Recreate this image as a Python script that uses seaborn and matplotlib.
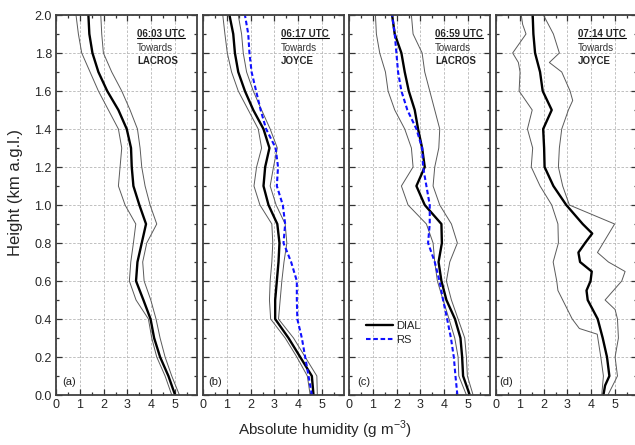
import pandas as pd
import matplotlib
matplotlib.use('Agg')
import matplotlib.pyplot as plt
from matplotlib.ticker import MultipleLocator, FormatStrFormatter
from matplotlib.lines import Line2D
import seaborn as sns

sns.set_style('ticks')
plt.rcParams['font.family'] = ['Liberation Sans', 'DejaVu Sans']
plt.rcParams['mathtext.fontset'] = 'custom'
plt.rcParams['mathtext.rm'] = 'Liberation Sans'

# heights (km) from top to bottom, shared by panels a-c
heights = [2.0, 1.9, 1.8, 1.7, 1.6, 1.5, 1.4, 1.3, 1.2, 1.1, 1.0,
           0.9, 0.8, 0.7, 0.6, 0.5, 0.4, 0.3, 0.2, 0.1, 0.0]

# (a) 06:03 UTC towards LACROS
dial_a = [1.36, 1.40, 1.53, 1.78, 2.15, 2.62, 2.97, 3.15, 3.18, 3.25, 3.50,
          3.78, 3.60, 3.42, 3.36, 3.67, 3.97, 4.12, 4.37, 4.72, 5.00]
lo_a = [0.84, 0.94, 1.08, 1.43, 1.78, 2.20, 2.62, 2.76, 2.69, 2.62, 2.90,
        3.35, 3.25, 3.14, 3.08, 3.36, 3.88, 4.02, 4.23, 4.58, 4.86]
hi_a = [1.88, 1.92, 1.99, 2.34, 2.76, 3.11, 3.42, 3.53, 3.60, 3.74, 3.95,
        4.23, 3.81, 3.64, 3.70, 3.98, 4.20, 4.37, 4.58, 4.86, 5.18]

# (b) 06:17 UTC towards JOYCE
dial_b = [1.11, 1.27, 1.34, 1.48, 1.76, 2.11, 2.54, 2.79, 2.61, 2.54, 2.75,
          3.12, 3.21, 3.17, 3.10, 3.03, 3.03, 3.59, 4.08, 4.57, 4.64]
lo_b = [0.83, 0.92, 1.02, 1.20, 1.48, 1.90, 2.32, 2.46, 2.25, 2.14, 2.39,
        2.89, 2.93, 2.89, 2.82, 2.79, 2.84, 3.45, 3.94, 4.38, 4.50]
hi_b = [1.48, 1.62, 1.69, 1.83, 2.11, 2.46, 2.82, 3.12, 2.96, 2.82, 3.07,
        3.45, 3.52, 3.40, 3.31, 3.24, 3.17, 3.80, 4.29, 4.78, 4.80]
rs_b = [1.76, 1.90, 1.95, 2.04, 2.23, 2.42, 2.65, 3.05, 3.15, 3.10, 3.35,
        3.45, 3.38, 3.70, 3.94, 3.94, 3.96, 4.15, 4.29, 4.43, 4.57]

# (c) 06:59 UTC towards LACROS
dial_c = [1.81, 1.92, 2.20, 2.34, 2.51, 2.76, 2.90, 3.07, 3.18, 2.83, 3.18,
          3.88, 3.90, 3.76, 3.88, 4.09, 4.45, 4.68, 4.75, 4.79, 5.07]
lo_c = [1.11, 1.15, 1.29, 1.53, 1.64, 1.92, 2.34, 2.62, 2.69, 2.20, 2.48,
        3.25, 3.53, 3.60, 3.71, 3.95, 4.20, 4.44, 4.58, 4.61, 4.93]
hi_c = [2.62, 2.69, 3.07, 3.18, 3.39, 3.60, 3.81, 3.77, 3.60, 3.53, 3.81,
        4.30, 4.55, 4.23, 4.09, 4.30, 4.58, 4.86, 4.93, 4.97, 5.21]
rs_c = [1.81, 1.92, 1.99, 2.06, 2.20, 2.45, 2.83, 3.07, 3.11, 3.25, 3.39,
        3.39, 3.32, 3.60, 3.80, 3.95, 4.12, 4.28, 4.40, 4.47, 4.55]

# (d) 07:14 UTC towards JOYCE (noisier, finer height steps)
h_dial_d = [2.0, 1.9, 1.8, 1.7, 1.6, 1.5, 1.4, 1.3, 1.2, 1.1, 1.0, 0.9, 0.85,
            0.8, 0.75, 0.7, 0.65, 0.6, 0.55, 0.5, 0.4, 0.3, 0.2, 0.1, 0.05, 0.0]
dial_d = [1.54, 1.57, 1.64, 1.85, 1.96, 2.34, 1.98, 2.02, 2.04, 2.41, 2.95, 3.64,
          4.04, 3.74, 3.46, 3.53, 4.02, 3.97, 3.80, 3.85, 4.27, 4.48, 4.66, 4.76,
          4.58, 4.51]
h_lo_d = [2.0, 1.95, 1.9, 1.8, 1.75, 1.7, 1.6, 1.5, 1.4, 1.3, 1.2, 1.1, 1.0,
          0.9, 0.8, 0.7, 0.6, 0.55, 0.5, 0.4, 0.35, 0.32, 0.2, 0.1, 0.0]
lo_d = [1.06, 1.12, 1.26, 0.70, 0.94, 1.01, 0.97, 1.52, 1.32, 1.54, 1.48, 1.85,
        2.34, 2.60, 2.62, 2.40, 2.55, 2.60, 2.80, 3.20, 3.50, 4.25, 4.40, 4.51,
        4.44]
h_hi_d = [2.0, 1.9, 1.8, 1.75, 1.7, 1.6, 1.55, 1.5, 1.4, 1.3, 1.2, 1.1, 1.0,
          0.9, 0.8, 0.75, 0.7, 0.65, 0.6, 0.5, 0.45, 0.4, 0.3, 0.2, 0.1, 0.0]
hi_d = [1.99, 2.41, 2.66, 2.24, 2.76, 3.11, 3.22, 3.04, 2.76, 2.66, 2.62, 2.80,
        3.08, 4.98, 4.50, 4.26, 4.72, 5.42, 5.28, 4.58, 5.00, 5.10, 5.14, 5.00,
        5.10, 4.70]

panel_tags = ['(a)', '(b)', '(c)', '(d)']
times = ['06:03 UTC', '06:17 UTC', '06:59 UTC', '07:14 UTC']
targets = ['LACROS', 'JOYCE', 'LACROS', 'JOYCE']

rows = []
def add(panel, series, h, v):
    for hh, vv in zip(h, v):
        rows.append({'panel': panel, 'series': series, 'height': hh, 'value': vv})

add(0, 'lo', heights, lo_a); add(0, 'hi', heights, hi_a); add(0, 'DIAL', heights, dial_a)
add(1, 'lo', heights, lo_b); add(1, 'hi', heights, hi_b); add(1, 'DIAL', heights, dial_b)
add(1, 'RS', heights, rs_b)
add(2, 'lo', heights, lo_c); add(2, 'hi', heights, hi_c); add(2, 'DIAL', heights, dial_c)
add(2, 'RS', heights, rs_c)
add(3, 'lo', h_lo_d, lo_d); add(3, 'hi', h_hi_d, hi_d); add(3, 'DIAL', h_dial_d, dial_d)
df = pd.DataFrame(rows)

styles = {
    'lo': dict(color='#5a5a5a', lw=0.7, ls='-'),
    'hi': dict(color='#5a5a5a', lw=0.7, ls='-'),
    'DIAL': dict(color='black', lw=1.7, ls='-'),
    'RS': dict(color='#1010ff', lw=1.5, ls=(0, (2.2, 1.3))),
}

fig = plt.figure(figsize=(6.35, 4.45), dpi=100)
lefts = [56, 203, 349, 496]
txt_x = [0.574, 0.553, 0.61, 0.58]
tag_x = [0.043, 0.035, 0.055, 0.02]
axes = []
for i, lx in enumerate(lefts):
    ax = fig.add_axes([lx / 635, 50 / 445, 141 / 635, 380 / 445])
    axes.append(ax)
    sub = df[df.panel == i]
    for s in ['lo', 'hi', 'DIAL', 'RS']:
        d = sub[sub.series == s]
        if d.empty:
            continue
        st = styles[s]
        sns.lineplot(data=d, x='value', y='height', orient='y', estimator=None,
                     sort=True, color=st['color'], lw=st['lw'], ls=st['ls'],
                     label=s, legend=False, ax=ax)
    ax.set_xlim(0, 5.92)
    ax.set_ylim(0, 2.0)
    ax.xaxis.set_major_locator(MultipleLocator(1))
    ax.xaxis.set_minor_locator(MultipleLocator(0.5))
    ax.yaxis.set_major_locator(MultipleLocator(0.2))
    ax.yaxis.set_minor_locator(MultipleLocator(0.1))
    ax.yaxis.set_major_formatter(FormatStrFormatter('%.1f'))
    ax.grid(True, which='major', ls=(0, (3, 2)), lw=0.6, color='#b5b5b5')
    ax.tick_params(which='both', direction='in', top=True, right=True,
                   color='#333333', width=0.9, labelsize=9, pad=3)
    ax.tick_params(which='major', length=4)
    ax.tick_params(which='minor', length=2.5)
    for sp in ax.spines.values():
        sp.set_linewidth(1.3)
        sp.set_color('#404040')
    ax.set_xlabel('')
    ax.set_ylabel('')
    if i > 0:
        ax.tick_params(labelleft=False)
    ax.text(txt_x[i], 0.95, times[i], transform=ax.transAxes, fontsize=7,
            fontweight='bold', va='center', ha='left')
    ax.text(txt_x[i], 0.913, 'Towards', transform=ax.transAxes, fontsize=7,
            va='center', ha='left', color='#333333')
    ax.text(txt_x[i], 0.878, targets[i], transform=ax.transAxes, fontsize=7,
            fontweight='bold', va='center', ha='left')
    ax.text(tag_x[i], 0.034, panel_tags[i], transform=ax.transAxes, fontsize=8,
            va='center', ha='left', color='#222222')

# legend in panel (c)
lc = axes[2]
hs = [l for l in lc.get_lines() if l.get_label() in ('DIAL', 'RS')]
lc.legend(handles=hs, labels=['DIAL', 'RS'], loc='upper left',
          bbox_to_anchor=(0.12, 0.195), frameon=False, fontsize=8,
          handlelength=2.4, handletextpad=0.3, borderaxespad=0, borderpad=0,
          labelspacing=0.35)

fig.text(0.512, 0.033, 'Absolute humidity (g m$^{-3}$)', ha='center',
         va='center', fontsize=11)
fig.text(0.024, 0.568, 'Height (km a.g.l.)', rotation=90, ha='center',
         va='center', fontsize=12)

# underline the time stamps
fig.canvas.draw()
r = fig.canvas.get_renderer()
inv = fig.transFigure.inverted()
for ax in axes:
    for t in ax.texts:
        if t.get_text() in times:
            bb = t.get_window_extent(r)
            (x0, y0), (x1, _) = inv.transform([(bb.x0, bb.y0), (bb.x1, bb.y1)])
            fig.add_artist(Line2D([x0, x1], [y0 + 0.002, y0 + 0.002],
                                  transform=fig.transFigure, color='black', lw=0.8))

fig.savefig('out.png', dpi=100)
